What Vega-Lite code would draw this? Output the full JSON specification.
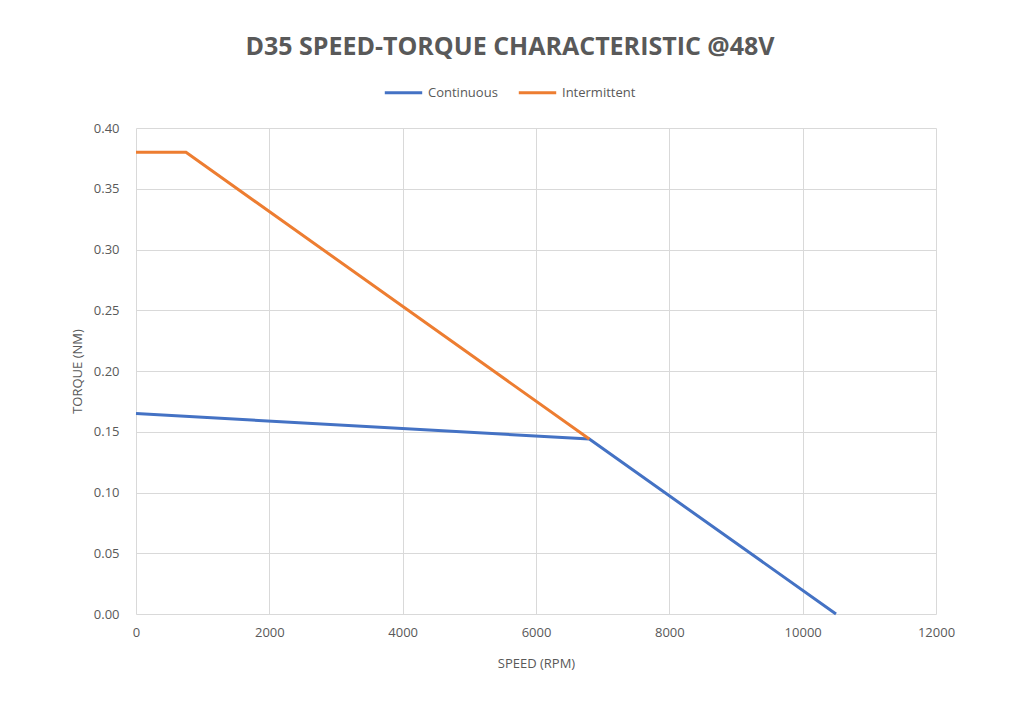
{
  "$schema": "https://vega.github.io/schema/vega-lite/v6.json",
  "width": 800,
  "height": 486,
  "autosize": {"type": "none"},
  "padding": {"left": 136, "top": 128, "right": 74, "bottom": 112},
  "background": "white",
  "title": {
    "text": "D35 SPEED-TORQUE CHARACTERISTIC @48V",
    "font": "Open Sans",
    "fontSize": 25,
    "fontWeight": "bold",
    "color": "#595959",
    "anchor": "middle",
    "dx": -26,
    "offset": 12
  },
  "data": {
    "values": [
      {"series": "Continuous", "speed": 0, "torque": 0.165},
      {"series": "Continuous", "speed": 6800, "torque": 0.144},
      {"series": "Continuous", "speed": 10500, "torque": 0},
      {"series": "Intermittent", "speed": 0, "torque": 0.38},
      {"series": "Intermittent", "speed": 750, "torque": 0.38},
      {"series": "Intermittent", "speed": 6800, "torque": 0.144}
    ]
  },
  "mark": {"type": "line", "strokeWidth": 3},
  "encoding": {
    "x": {
      "field": "speed",
      "type": "quantitative",
      "scale": {"domain": [0, 12000], "nice": false},
      "axis": {"values": [0, 2000, 4000, 6000, 8000, 10000, 12000], "title": "SPEED (RPM)", "titlePadding": 18, "labelPadding": 12, "labelFlush": false, "format": "d"}
    },
    "y": {
      "field": "torque",
      "type": "quantitative",
      "scale": {"domain": [0, 0.4], "nice": false},
      "axis": {"values": [0, 0.05, 0.1, 0.15, 0.2, 0.25, 0.3, 0.35, 0.4], "format": ".2f", "title": "TORQUE (NM)", "labelPadding": 17, "titleX": -52, "titleY": 243}
    },
    "color": {
      "field": "series",
      "type": "nominal",
      "scale": {"domain": ["Continuous", "Intermittent"], "range": ["#4472C4", "#ED7D31"]},
      "legend": {
        "title": null,
        "orient": "none",
        "direction": "horizontal",
        "legendX": 247,
        "legendY": -56,
        "symbolType": "stroke",
        "symbolSize": 1400,
        "symbolStrokeWidth": 3,
        "labelFont": "Open Sans",
        "labelFontSize": 13,
        "labelColor": "#595959",
        "columnPadding": 14,
        "labelOffset": 4
      }
    }
  },
  "config": {
    "view": {"stroke": null},
    "axis": {
      "domain": false,
      "ticks": false,
      "gridColor": "#d9d9d9",
      "gridWidth": 1,
      "labelFont": "Open Sans",
      "labelFontSize": 13,
      "labelColor": "#595959",
      "titleFont": "Open Sans",
      "titleFontSize": 13,
      "titleFontWeight": "normal",
      "titleColor": "#595959"
    }
  }
}
